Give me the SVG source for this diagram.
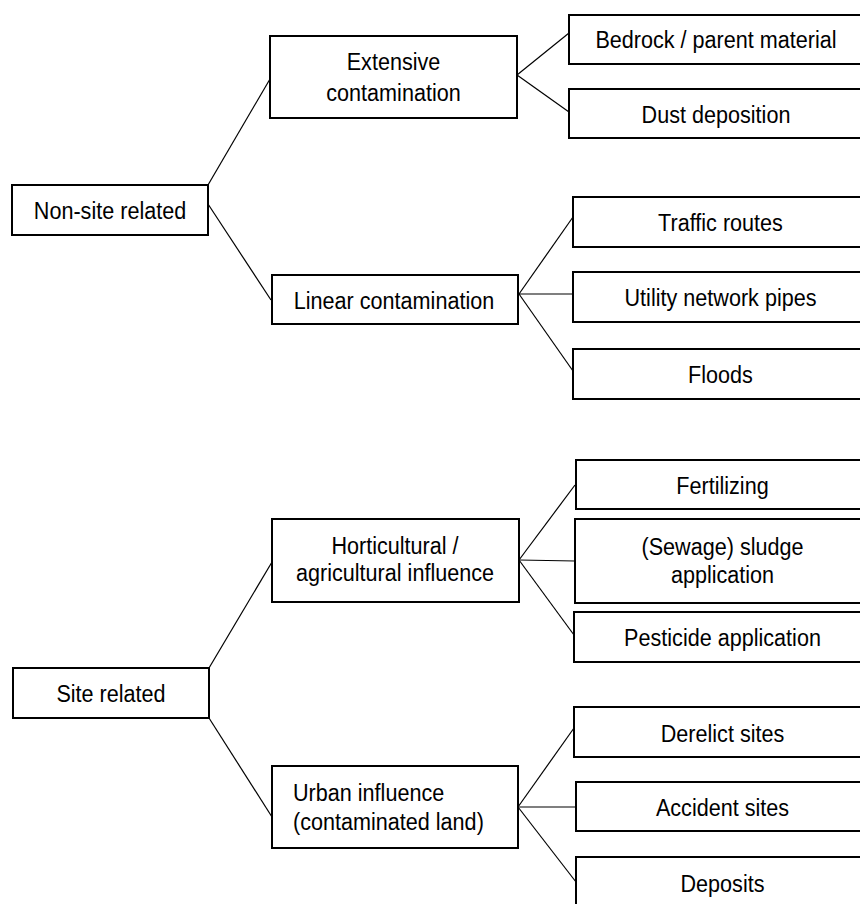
<svg xmlns="http://www.w3.org/2000/svg" width="860" height="904" viewBox="0 0 860 904">
<style>
.box{fill:#fff;stroke:#000;stroke-width:2}
.conn line{stroke:#000;stroke-width:1.2}
text{font-family:"Liberation Sans",Arial,sans-serif;font-size:21.6px;fill:#000;text-anchor:middle}
.l{text-anchor:start}
</style>
<rect width="860" height="904" fill="#fff"/>
<g id="connectors" class="conn">
<line x1="208" y1="185" x2="270" y2="79"/>
<line x1="208" y1="204" x2="271" y2="300"/>
<line x1="517" y1="75" x2="569" y2="33"/>
<line x1="517" y1="75" x2="569" y2="112"/>
<line x1="519" y1="294" x2="573" y2="217"/>
<line x1="519" y1="294" x2="573" y2="294"/>
<line x1="519" y1="294" x2="573" y2="371"/>
<line x1="209" y1="668" x2="272" y2="562"/>
<line x1="209" y1="718" x2="272" y2="817"/>
<line x1="519" y1="560" x2="575" y2="485"/>
<line x1="519" y1="560" x2="575" y2="561"/>
<line x1="519" y1="560" x2="574" y2="635"/>
<line x1="518" y1="807" x2="574" y2="728"/>
<line x1="518" y1="807" x2="576" y2="807"/>
<line x1="518" y1="807" x2="576" y2="882"/>
</g>
<g id="non-site">
<rect class="box" x="12" y="185" width="196" height="50"/>
<text transform="translate(110,219) scale(1,1.12)">Non-site related</text>
</g>
<g id="extensive">
<rect class="box" x="270" y="36" width="247" height="82"/>
<text transform="translate(393.5,70) scale(1,1.12)"><tspan x="0" y="0">Extensive</tspan><tspan x="0" dy="27.5">contamination</tspan></text>
</g>
<g id="linear">
<rect class="box" x="272" y="275" width="246" height="49"/>
<text transform="translate(394,309) scale(1,1.12)">Linear contamination</text>
</g>
<g id="bedrock">
<rect class="box" x="569" y="15" width="294" height="49"/>
<text transform="translate(716,48) scale(1,1.12)">Bedrock / parent material</text>
</g>
<g id="dust">
<rect class="box" x="569" y="89" width="294" height="49"/>
<text transform="translate(716,122.5) scale(1,1.12)">Dust deposition</text>
</g>
<g id="traffic">
<rect class="box" x="573" y="197" width="290" height="50"/>
<text transform="translate(720.5,231) scale(1,1.12)">Traffic routes</text>
</g>
<g id="utility">
<rect class="box" x="573" y="272" width="290" height="50"/>
<text transform="translate(720.5,306) scale(1,1.12)">Utility network pipes</text>
</g>
<g id="floods">
<rect class="box" x="573" y="349" width="290" height="50"/>
<text transform="translate(720.5,383) scale(1,1.12)">Floods</text>
</g>
<g id="site">
<rect class="box" x="13" y="668" width="196" height="50"/>
<text transform="translate(111,702) scale(1,1.12)">Site related</text>
</g>
<g id="horticultural">
<rect class="box" x="272" y="519" width="247" height="83"/>
<text transform="translate(395,553.5) scale(1,1.12)"><tspan x="0" y="0">Horticultural /</tspan><tspan x="0" dy="25">agricultural influence</tspan></text>
</g>
<g id="urban">
<rect class="box" x="272" y="766" width="246" height="82"/>
<text class="l" transform="translate(293,801) scale(1,1.12)"><tspan x="0" y="0">Urban influence</tspan><tspan x="0" dy="25.5">(contaminated land)</tspan></text>
</g>
<g id="fertilizing">
<rect class="box" x="576" y="460" width="287" height="49"/>
<text transform="translate(722.5,493.5) scale(1,1.12)">Fertilizing</text>
</g>
<g id="sewage">
<rect class="box" x="575" y="519" width="288" height="84"/>
<text transform="translate(722.5,555) scale(1,1.12)"><tspan x="0" y="0">(Sewage) sludge</tspan><tspan x="0" dy="25">application</tspan></text>
</g>
<g id="pesticide">
<rect class="box" x="574" y="612" width="289" height="50"/>
<text transform="translate(722.5,646) scale(1,1.12)">Pesticide application</text>
</g>
<g id="derelict">
<rect class="box" x="574" y="707" width="289" height="50"/>
<text transform="translate(722.5,741.5) scale(1,1.12)">Derelict sites</text>
</g>
<g id="accident">
<rect class="box" x="576" y="782" width="287" height="49"/>
<text transform="translate(722.5,816) scale(1,1.12)">Accident sites</text>
</g>
<g id="deposits">
<rect class="box" x="576" y="857" width="287" height="60"/>
<text transform="translate(722.5,891.5) scale(1,1.12)">Deposits</text>
</g>
</svg>
